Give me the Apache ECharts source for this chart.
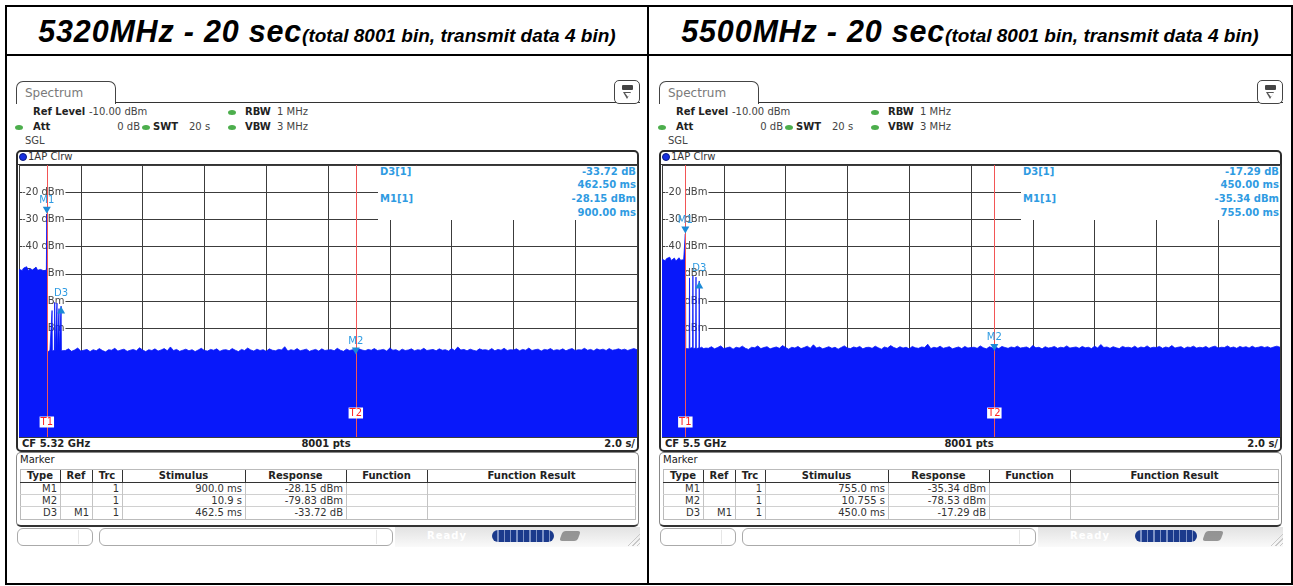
<!DOCTYPE html>
<html><head><meta charset="utf-8">
<script src="https://cdn.jsdelivr.net/npm/echarts@6.0.0/dist/echarts.min.js"></script>
<style>
html,body{margin:0;padding:0;background:#fff;}
body{width:1293px;height:586px;position:relative;overflow:hidden;font-family:'DejaVu Sans',sans-serif;color:#222;}
.a{position:absolute;white-space:nowrap;box-sizing:border-box;}
#chrome{position:absolute;left:0;top:0;z-index:1;}
#chart{position:absolute;left:0;top:0;width:1293px;height:586px;z-index:2;}
#over{position:absolute;left:0;top:0;z-index:3;}
.t10{font-size:10px;line-height:12px;}
.b{font-weight:bold;}
</style></head><body>
<div id="chrome"></div>
<div id="chart"></div>
<div id="over"></div>
<script>
// ---------- texts ----------
const headMain = ['5320MHz - 20 sec', '5500MHz - 20 sec'];
const headSub = '(total 8001 bin, transmit data 4 bin)';
const cfText = ['CF 5.32 GHz', 'CF 5.5 GHz'];
const ptsText = '8001 pts';
const divText = '2.0 s/';
const yTickLabels = [-20, -30, -40, -50, -60, -70];
const yUnit = ' dBm';
const colHead = ['Type', 'Ref', 'Trc', 'Stimulus', 'Response', 'Function', 'Function Result'];

// ---------- markers ----------
const markerNames = ['M1', 'M2', 'D3'];
const markerRefs = ['', '', 'M1'];
const markerTrc = ['1', '1', '1'];
const stimA = ['900.0 ms', '10.9 s', '462.5 ms'];
const respA = ['-28.15 dBm', '-79.83 dBm', '-33.72 dB'];
const stimB = ['755.0 ms', '10.755 s', '450.0 ms'];
const respB = ['-35.34 dBm', '-78.53 dBm', '-17.29 dB'];
const markA_t = [0.9, 10.9, 1.3625];
const markA_v = [-28.15, -79.83, -61.87];
const markB_t = [0.755, 10.755, 1.205];
const markB_v = [-35.34, -78.53, -52.63];
const infoA = ['D3[1]', '-33.72 dB', '462.50 ms', 'M1[1]', '-28.15 dBm', '900.00 ms'];
const infoB = ['D3[1]', '-17.29 dB', '450.00 ms', 'M1[1]', '-35.34 dBm', '755.00 ms'];

// ---------- trace A (5320 MHz) ----------
const traceA_t = [0,0.05,0.1,0.15,0.2,0.25,0.3,0.35,0.4,0.45,0.5,0.55,0.6,0.65,0.7,0.75,0.8,0.85,0.885,
  0.9,0.915,0.95,1.0,1.06,1.07,1.08,1.145,1.155,1.165,1.22,1.23,1.24,1.285,1.295,1.305,1.3525,1.3625,1.3725,1.42];
const traceA_v = [-48.3,-47.6,-48.8,-47.9,-48.5,-47.4,-48.9,-48.1,-47.8,-48.6,-48.2,-47.5,-48.7,-48.0,-48.4,-47.7,-48.9,-48.3,-48.6,
  -28.15,-78.9,-78.4,-78.1,-78.6,-63.5,-78.3,-78.2,-60.5,-78.7,-78.0,-60.8,-78.5,-78.4,-62.8,-78.1,-78.6,-61.87,-78.3,-78.5];
const noiseA_start = 1.5, noiseA_step = 0.1;
const noiseA_v = [
-78.2,-77.6,-78.5,-78.0,-77.3,-78.4,-78.1,-77.8,-78.6,-77.9,-78.3,-77.5,-78.2,-78.7,-77.9,-78.1,-77.4,-78.4,-78.0,-77.7,
-78.5,-78.1,-77.8,-78.3,-77.2,-78.0,-78.6,-77.9,-78.2,-77.6,-78.4,-78.0,-77.5,-78.3,-76.9,-78.2,-77.8,-78.5,-78.1,-77.7,
-78.3,-77.9,-78.6,-78.0,-77.4,-78.2,-78.4,-77.8,-78.1,-77.6,-78.5,-78.0,-77.9,-78.3,-77.5,-78.1,-78.6,-77.8,-78.2,-77.3,
-78.0,-78.4,-77.7,-78.2,-77.9,-78.5,-77.6,-78.1,-78.3,-77.8,-78.0,-76.8,-78.4,-77.9,-78.2,-77.5,-78.3,-78.0,-77.7,-78.5,
-78.1,-77.8,-78.4,-77.6,-78.2,-78.0,-77.9,-78.3,-77.4,-78.1,-78.5,-77.7,-78.2,-77.9,-78.4,-77.6,-78.0,-78.3,-77.8,-78.1,
-77.5,-78.2,-78.0,-77.8,-78.4,-77.3,-78.1,-77.9,-78.5,-77.7,-78.2,-78.0,-77.6,-78.3,-77.9,-78.1,-77.4,-78.2,-78.0,-77.8,
-78.3,-77.6,-78.1,-77.9,-78.4,-77.5,-78.2,-76.9,-78.0,-77.8,-78.3,-77.7,-78.1,-78.4,-77.6,-78.0,-77.9,-78.2,-77.5,-78.3,
-77.8,-78.1,-77.4,-78.2,-77.9,-78.0,-77.6,-78.3,-77.8,-78.1,-77.3,-78.2,-77.9,-77.7,-78.4,-77.8,-78.0,-77.5,-78.2,-77.9,
-78.1,-77.6,-78.3,-77.8,-77.5,-78.2,-77.9,-78.0,-77.4,-78.1,-77.8,-78.3,-77.6,-78.0,-77.7,-78.2,-77.5,-78.1,-77.9,-77.6,
-78.0,-77.7,-78.2,-77.8,-77.5,-77.9];

// ---------- trace B (5500 MHz) ----------
const traceB_t = [0,0.05,0.1,0.15,0.2,0.25,0.3,0.35,0.4,0.45,0.5,0.55,0.6,0.65,0.7,
  0.74,0.755,0.77,0.82,0.88,0.89,0.9,0.99,1.0,1.01,1.09,1.1,1.11,1.195,1.205,1.215,1.28,1.35,1.42];
const traceB_v = [-44.6,-44.0,-45.2,-44.4,-44.9,-43.9,-45.1,-44.5,-44.2,-45.3,-44.7,-44.1,-45.0,-44.4,-44.8,
  -44.9,-35.34,-77.5,-77.2,-77.6,-51.5,-77.4,-77.1,-50.8,-77.5,-77.3,-51.2,-77.6,-77.2,-52.63,-77.4,-77.0,-77.5,-77.3];
const noiseB_start = 1.5, noiseB_step = 0.1;
const noiseB_v = [
-77.4,-76.8,-77.6,-77.1,-76.5,-77.5,-77.2,-76.9,-77.7,-77.0,-77.3,-76.6,-77.4,-77.8,-77.0,-77.2,-76.5,-77.5,-77.1,-76.8,
-77.6,-77.2,-76.9,-77.4,-76.4,-77.1,-77.7,-77.0,-77.3,-76.7,-77.5,-77.1,-76.6,-77.4,-76.1,-77.3,-76.9,-77.6,-77.2,-76.8,
-77.4,-77.0,-77.7,-77.1,-76.5,-77.3,-77.5,-76.9,-77.2,-76.7,-77.6,-77.1,-77.0,-77.4,-76.6,-77.2,-77.7,-76.9,-77.3,-76.4,
-77.1,-77.5,-76.8,-77.3,-77.0,-77.6,-76.7,-77.2,-77.4,-76.9,-77.1,-75.9,-77.5,-77.0,-77.3,-76.6,-77.4,-77.1,-76.8,-77.6,
-77.2,-76.9,-77.5,-76.7,-77.3,-77.1,-77.0,-77.4,-76.5,-77.2,-77.6,-76.8,-77.3,-77.0,-77.5,-76.7,-77.1,-77.4,-76.9,-77.2,
-76.6,-77.3,-77.1,-76.9,-77.5,-76.4,-77.2,-77.0,-77.6,-76.8,-77.3,-77.1,-76.7,-77.4,-77.0,-77.2,-76.5,-77.3,-77.1,-76.9,
-77.4,-76.7,-77.2,-77.0,-77.5,-76.6,-77.3,-76.0,-77.1,-76.9,-77.4,-76.8,-77.2,-77.5,-76.7,-77.1,-77.0,-77.3,-76.6,-77.4,
-76.9,-77.2,-76.5,-77.3,-77.0,-77.1,-76.7,-77.4,-76.9,-77.2,-76.4,-77.3,-77.0,-76.8,-77.5,-76.9,-77.1,-76.6,-77.3,-77.0,
-77.2,-76.7,-77.4,-76.9,-76.6,-77.3,-77.0,-77.1,-76.5,-77.2,-76.9,-77.4,-76.7,-77.1,-76.8,-77.3,-76.6,-77.2,-77.0,-76.7,
-77.1,-76.8,-77.3,-76.9,-76.6,-77.0];

// ---------- styles ----------
const BLUE = '#0818fa';
const GRID = '#3c3c3c';
const RED = '#f25555';
const MK = '#1c8ad6';
const MKT = '#2f9be2';
const panelOffsets = [0, 643];

// ---------- chrome (HTML) ----------
const chrome = document.getElementById('chrome');
const over = document.getElementById('over');
function box(parent, x, y, w, h, css, text, cls) {
  const d = document.createElement('div');
  d.className = 'a ' + (cls || '');
  d.style.cssText = 'left:' + x + 'px;top:' + y + 'px;' + (w != null ? 'width:' + w + 'px;' : '') + (h != null ? 'height:' + h + 'px;' : '') + (css || '');
  if (text != null) d.textContent = text;
  parent.appendChild(d);
  return d;
}
// outer table
box(chrome, 5, 5, 1288, 2, 'background:#000');
box(chrome, 5, 583, 1288, 2, 'background:#000');
box(chrome, 5, 5, 2, 580, 'background:#000');
box(chrome, 1291, 5, 2, 580, 'background:#000');
box(chrome, 647, 5, 2, 580, 'background:#000');
box(chrome, 5, 54, 1288, 2, 'background:#000');

const cellL = [7, 649], cellW = [640, 642];
const infos = [infoA, infoB];
const stims = [stimA, stimB], resps = [respA, respB];
const colX = [20, 60, 92, 122, 245, 346, 427, 636];

panelOffsets.forEach((dx, i) => {
  // header
  const h = box(chrome, cellL[i], 13, cellW[i], 36, 'text-align:center;font-family:"Liberation Sans",Arial,sans-serif;font-weight:bold;font-style:italic;line-height:36px;color:#000;');
  const s1 = document.createElement('span'); s1.style.cssText = 'font-size:30.5px;letter-spacing:0.8px;'; s1.textContent = headMain[i];
  const s2 = document.createElement('span'); s2.style.fontSize = '19px'; s2.textContent = headSub;
  h.appendChild(s1); h.appendChild(s2);

  // tab + line + icon
  const tab = box(chrome, 16 + dx, 81, 100, 23, 'border:1px solid #444;border-bottom:none;border-radius:7px 7px 0 0;background:#fff;');
  box(tab, 8, 0, null, 22, 'color:#7a7a7a;font-size:12px;line-height:23px;', 'Spectrum');
  box(chrome, 115 + dx, 102, 525, 1, 'background:#333');
  const ic = box(chrome, 614 + dx, 80, 26, 24, 'border:1px solid #444;border-radius:5px;background:#fff;');
  box(ic, 7, 4, 11, 5, 'background:#444;border-radius:1px;');
  box(ic, 8, 11, 0, 0, 'border-left:4.5px solid transparent;border-right:4.5px solid transparent;border-top:7px solid #555;');
  box(ic, 9.5, 11.5, 0, 0, 'border-left:3px solid transparent;border-right:3px solid transparent;border-top:4.5px solid #fff;');

  // settings text
  const dot = (x, y) => box(chrome, x + dx, y, 8, 5, 'background:#4cae4c;border-radius:50%;');
  box(chrome, 33 + dx, 106, null, 12, 'font-weight:bold', 'Ref Level', 't10');
  box(chrome, 89 + dx, 106, null, 12, 'color:#444', '-10.00 dBm', 't10');
  dot(228, 110);
  box(chrome, 245 + dx, 106, null, 12, 'font-weight:bold', 'RBW', 't10');
  box(chrome, 277 + dx, 106, null, 12, 'color:#444', '1 MHz', 't10');
  dot(15, 125);
  box(chrome, 33 + dx, 121, null, 12, 'font-weight:bold', 'Att', 't10');
  box(chrome, 100 + dx, 121, 40, 12, 'color:#444;text-align:right', '0 dB', 't10');
  dot(142, 125);
  box(chrome, 153 + dx, 121, null, 12, 'font-weight:bold', 'SWT', 't10');
  box(chrome, 189 + dx, 121, null, 12, 'color:#444', '20 s', 't10');
  dot(228, 125);
  box(chrome, 245 + dx, 121, null, 12, 'font-weight:bold', 'VBW', 't10');
  box(chrome, 277 + dx, 121, null, 12, 'color:#444', '3 MHz', 't10');
  box(chrome, 25 + dx, 135, null, 12, 'color:#444', 'SGL', 't10');

  // plot panel frame
  box(chrome, 16 + dx, 150, 623, 302, 'border:2px solid #2b2b2b;border-radius:5px;');
  box(chrome, 18 + dx, 164, 620, 1, 'background:#333');
  box(chrome, 19 + dx, 153, 8, 8, 'background:#1830e0;border:1px solid #0a1a80;border-radius:50%;');
  box(chrome, 28 + dx, 151, null, 12, 'color:#333', '1AP Clrw', 't10');
  box(chrome, 22 + dx, 438, null, 12, 'font-weight:bold;color:#222', cfText[i], 't10');
  box(chrome, 276 + dx, 438, 100, 12, 'font-weight:bold;color:#222;text-align:center', ptsText, 't10');
  box(chrome, 536 + dx, 438, 99, 12, 'font-weight:bold;color:#222;text-align:right', divText, 't10');

  // marker panel
  box(chrome, 16 + dx, 452, 623, 75, 'border:1px solid #888;border-bottom:2px solid #333;border-radius:5px;');
  box(chrome, 20 + dx, 454, null, 12, 'color:#222', 'Marker', 't10');
  box(chrome, 20 + dx, 469, 616, 51, 'border:1px solid #bbb;');
  box(chrome, 20 + dx, 482, 616, 1, 'background:#333');
  box(chrome, 20 + dx, 494, 616, 1, 'background:#d0d0d0');
  box(chrome, 20 + dx, 506, 616, 1, 'background:#d0d0d0');
  for (let c = 1; c < colX.length - 1; c++) {
    box(chrome, colX[c] + dx, 470, 1, 12, 'background:#333');
    box(chrome, colX[c] + dx, 483, 1, 36, 'background:#c4c4c4');
  }
  for (let c = 0; c < colHead.length; c++) {
    box(chrome, colX[c] + dx, 470, colX[c + 1] - colX[c], 12, 'text-align:center;font-weight:bold;color:#222', colHead[c], 't10');
  }
  for (let r = 0; r < 3; r++) {
    const vals = [markerNames[r], markerRefs[r], markerTrc[r], stims[i][r], resps[i][r], '', ''];
    for (let c = 0; c < 5; c++) {
      box(chrome, colX[c] + dx, 483 + 12 * r, colX[c + 1] - colX[c], 12, 'text-align:right;padding-right:3px;color:#333', vals[c], 't10');
    }
  }

  // status bar
  box(chrome, 17 + dx, 528, 76, 18, 'border:1px solid #aaa;border-radius:6px;background:#fff');
  box(chrome, 78 + dx, 530, 1, 14, 'background:#e6e6e6');
  box(chrome, 99 + dx, 528, 294, 18, 'border:1px solid #aaa;border-radius:6px;background:#fff');
  box(chrome, 376 + dx, 530, 1, 14, 'background:#e6e6e6');
  box(chrome, 395 + dx, 527, 245, 20, 'background:linear-gradient(#e2e2e2,#fafafa)');
  box(chrome, 427 + dx, 530, null, 12, 'color:#fff;font-weight:bold;letter-spacing:1px', 'Ready', 't10');
  box(chrome, 492 + dx, 530, 62, 12, 'background:repeating-linear-gradient(90deg,#1b3a8c 0 5px,#7f93c6 5px 6.5px);border-radius:6px;');
  box(chrome, 561 + dx, 531, 18, 10, 'background:#6f6f6f;border-radius:3px;opacity:.7;transform:skewX(-20deg)');
  box(chrome, 626 + dx, 532, 14, 14, 'background:repeating-linear-gradient(135deg,transparent 0 2px,#c8c8c8 2px 3px);clip-path:polygon(100% 0,100% 100%,0 100%)');

  // marker info box (over plot)
  const inf = infos[i];
  box(over, 378 + dx, 166, 259, 54, 'background:#fff');
  const st = 'font-weight:bold;color:' + MKT + ';';
  box(over, 380 + dx, 166, null, 12, st, inf[0], 't10');
  box(over, 500 + dx, 166, 136, 12, st + 'text-align:right', inf[1], 't10');
  box(over, 500 + dx, 179, 136, 12, st + 'text-align:right', inf[2], 't10');
  box(over, 380 + dx, 193, null, 12, st, inf[3], 't10');
  box(over, 500 + dx, 193, 136, 12, st + 'text-align:right', inf[4], 't10');
  box(over, 500 + dx, 207, 136, 12, st + 'text-align:right', inf[5], 't10');
});

// ---------- chart ----------
function buildTrace(tArr, vArr, nStart, nStep, nArr) {
  const d = tArr.map((t, k) => [t, vArr[k]]);
  nArr.forEach((v, k) => d.push([+(nStart + k * nStep).toFixed(3), v]));
  return d;
}
const traces = [
  buildTrace(traceA_t, traceA_v, noiseA_start, noiseA_step, noiseA_v),
  buildTrace(traceB_t, traceB_v, noiseB_start, noiseB_step, noiseB_v)
];
const marks = [[markA_t, markA_v], [markB_t, markB_v]];
const DOWN = 'path://M0,0L8,0L4,7Z';

const chart = echarts.init(document.getElementById('chart'), null, { renderer: 'canvas' });
const yLineAxes = panelOffsets.map((dx, i) => ({
  gridIndex: i, type: 'value', min: -110, max: -10, interval: 10, z: 0,
  axisLine: { show: false }, axisTick: { show: false }, axisLabel: { show: false },
  splitLine: { show: true, lineStyle: { color: GRID, width: 1 } }
}));
const yLabelAxes = panelOffsets.map((dx, i) => ({
  gridIndex: i, type: 'value', min: -110, max: -10, interval: 10, z: 1, position: 'left',
  axisLine: { show: false }, axisTick: { show: false }, splitLine: { show: false },
  axisLabel: {
    show: true, inside: true, margin: 3, color: '#444', fontSize: 10, fontFamily: 'DejaVu Sans',
    backgroundColor: '#fff', padding: [0, 1, 0, 0],
    formatter: v => yTickLabels.includes(v) ? v + yUnit : ''
  }
}));
const option = {
  animation: false,
  backgroundColor: 'transparent',
  grid: panelOffsets.map(dx => ({ left: 19 + dx, top: 165, width: 618, height: 272, containLabel: false })),
  xAxis: panelOffsets.map((dx, i) => ({
    gridIndex: i, type: 'value', min: 0, max: 20, interval: 2, z: 0,
    axisLine: { show: false }, axisTick: { show: false }, axisLabel: { show: false },
    splitLine: { show: true, lineStyle: { color: GRID, width: 1 } }
  })),
  yAxis: yLineAxes.concat(yLabelAxes),
  series: panelOffsets.map((dx, i) => {
    const [mt, mv] = marks[i];
    const mp = markerNames.map((n, k) => {
      const down = n !== 'D3';
      return {
        coord: [mt[k], mv[k]],
        symbol: down ? DOWN : 'triangle',
        symbolSize: [8, 7],
        symbolOffset: [0, down ? -4 : 4],
        itemStyle: { color: MK },
        label: { show: true, position: 'top', distance: down ? 1 : 8, formatter: n, color: MKT, fontSize: 10, fontFamily: 'DejaVu Sans' }
      };
    });
    // T1 / T2 labels at the bottom of the time lines
    [0, 1].forEach(k => {
      mp.push({
        coord: [mt[k], -110], symbol: 'rect', symbolSize: 0,
        label: { show: true, position: 'inside', offset: [0, k === 0 ? -15 : -24], formatter: 'T' + (k + 1),
          color: '#ff2020', backgroundColor: '#fff', padding: [1, 1, 0, 1], fontSize: 10, fontFamily: 'DejaVu Sans' }
      });
    });
    return {
      type: 'line', xAxisIndex: i, yAxisIndex: i, data: traces[i],
      showSymbol: false, symbol: 'none', silent: true, z: 2,
      lineStyle: { color: BLUE, width: 0.8 },
      areaStyle: { color: BLUE, opacity: 1, origin: 'start' },
      markLine: {
        silent: true, symbol: 'none', z: 4,
        lineStyle: { color: RED, width: 1, type: 'solid' },
        label: { show: false },
        data: [{ xAxis: mt[0] }, { xAxis: mt[1] }]
      },
      markPoint: { silent: true, z: 6, data: mp }
    };
  })
};
chart.setOption(option);
</script>
</body></html>
